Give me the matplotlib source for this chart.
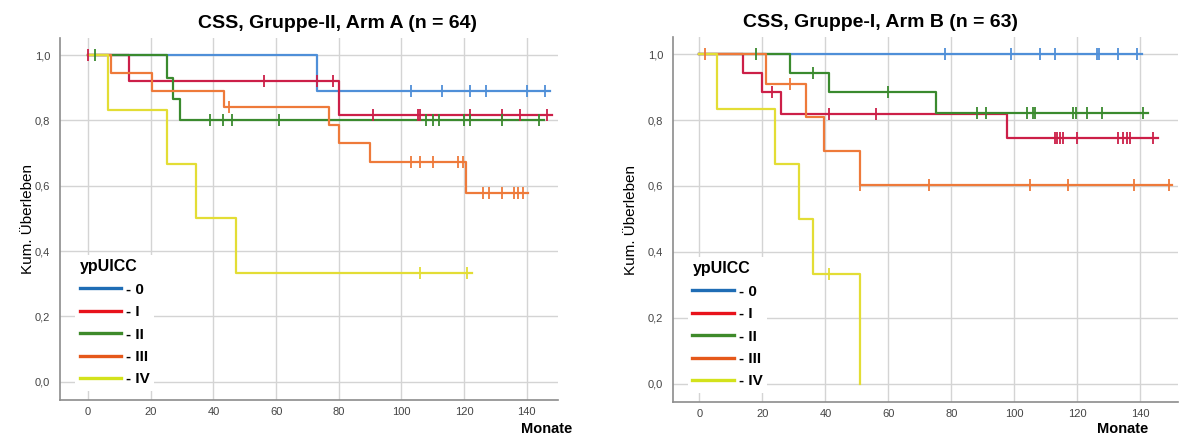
import matplotlib

matplotlib.use("Agg")
import matplotlib.pyplot as plt
import numpy as np
from matplotlib.ticker import FuncFormatter

plt.rcParams["font.family"] = ["Liberation Sans", "DejaVu Sans"]

GROUPS = ["0", "I", "II", "III", "IV"]
CURVE_COLORS = ["#4f8fd8", "#cc1f48", "#3a8a2e", "#ee7a3a", "#e3dd35"]
LEGEND_COLORS = ["#1f6db5", "#e8121b", "#3e8a2a", "#e5581a", "#d3e21b"]

# Arm A (Gruppe-II): event times, survival after each event, censored times, last follow-up
A_EVENTS = [[73], [13, 80], [25.3, 27.2, 29.2], [7.4, 20.3, 43.4, 77, 80.2, 90, 120.7], [6.3, 25.3, 34.3, 47.2]]
A_SURV = [[0.889], [0.92, 0.818], [0.931, 0.865, 0.80],
          [0.946, 0.891, 0.84, 0.786, 0.73, 0.672, 0.577], [0.833, 0.667, 0.5, 0.333]]
A_CENSOR = [
    [103, 113, 122, 127, 140, 146],
    [0, 56, 73, 78, 91, 105.2, 106, 122, 132, 138, 146.5],
    [2.3, 39, 43, 46, 61, 108, 110, 112, 120, 122, 132, 144],
    [45, 103, 106, 110, 118, 119.7, 126, 128, 132, 136, 137.2, 138.7],
    [106, 121],
]
A_END = [147.5, 148, 145.5, 140.5, 122.5]

# Arm B (Gruppe-I)
B_EVENTS = [[], [13.8, 20, 25.8, 97.8], [28.8, 41, 75], [21.2, 33.9, 39.7, 51], [5.7, 24, 31.7, 36, 51]]
B_SURV = [[], [0.942, 0.884, 0.818, 0.746], [0.944, 0.886, 0.822],
          [0.909, 0.808, 0.706, 0.603], [0.833, 0.667, 0.5, 0.333, 0.0]]
B_CENSOR = [
    [78, 99, 108, 113, 126.2, 127, 133, 139],
    [23, 41, 56, 113, 113.6, 114.5, 115.5, 120, 133, 134.4, 135.7, 136.7, 144],
    [18, 36, 60, 88, 91, 104, 105.8, 106.6, 118.7, 119.5, 123, 128, 141],
    [1.8, 28.8, 51, 73, 105, 117, 138, 149],
    [41],
]
B_END = [140.5, 145.5, 142.5, 150, 51]

X_TICKS = [0, 20, 40, 60, 80, 100, 120, 140]
Y_TICKS = [0.0, 0.2, 0.4, 0.6, 0.8, 1.0]


def draw_km(axis, events, surv, censor, end, color):
    x = np.array([0.0] + list(events) + [end])
    y = np.array([1.0] + list(surv) + [surv[-1] if surv else 1.0])
    axis.plot(x, y, drawstyle="steps-post", color=color, lw=1.6, zorder=3)
    c = np.asarray(censor, dtype=float)
    idx = np.searchsorted(np.asarray(events, dtype=float), c, side="right")
    cy = np.array([1.0] + list(surv))[idx]
    axis.plot(c, cy, ls="none", marker="|", ms=9, mew=1.3, color=color, zorder=4)


def panel(axis, events, surv, censor, end, title, title_x, xlim, monate_xy, label_x):
    for k in range(len(GROUPS)):
        draw_km(axis, events[k], surv[k], censor[k], end[k], CURVE_COLORS[k])
    axis.set_xlim(*xlim)
    axis.set_ylim(-0.056, 1.052)
    axis.set_xticks(X_TICKS)
    axis.set_yticks(Y_TICKS)
    axis.yaxis.set_major_formatter(FuncFormatter(lambda v, _: f"{v:.1f}".replace(".", ",")))
    axis.grid(True, color="#d4d4d4", lw=1.0, zorder=0)
    axis.set_axisbelow(True)
    for side in ("top", "right"):
        axis.spines[side].set_visible(False)
    for side in ("left", "bottom"):
        axis.spines[side].set_color("#8c8c8c")
        axis.spines[side].set_linewidth(1.2)
    axis.tick_params(length=0, labelsize=8, colors="#444444")
    axis.tick_params(axis="y", pad=7)
    axis.tick_params(axis="x", pad=5)
    axis.set_title(title, fontsize=14, fontweight="bold", pad=7, x=title_x)
    axis.set_ylabel("Kum. Überleben", fontsize=11)
    axis.yaxis.set_label_coords(label_x, 0.5)
    axis.text(*monate_xy, "Monate", transform=axis.transAxes, ha="center", va="center",
              fontsize=10.5, fontweight="bold")

    handles = [plt.Line2D([], [], color=c, lw=2.4) for c in LEGEND_COLORS]
    leg = axis.legend(handles, [f"- {g}" for g in GROUPS], title="ypUICC",
                      loc="lower left", bbox_to_anchor=(0.03, 0.025), borderaxespad=0,
                      frameon=True, framealpha=1.0, edgecolor="none", fancybox=False,
                      prop={"size": 11, "weight": "bold"},
                      title_fontproperties={"size": 11.5, "weight": "bold"},
                      handlelength=2.7, handletextpad=0.35, labelspacing=0.55,
                      borderpad=0.3, alignment="left")
    leg.set_zorder(5)


fig = plt.figure(figsize=(11.81, 4.34), dpi=100)
ax_a = fig.add_axes([0.0508, 0.0783, 0.4217, 0.834])
ax_b = fig.add_axes([0.5696, 0.0737, 0.4279, 0.841])

panel(ax_a, A_EVENTS, A_SURV, A_CENSOR, A_END, "CSS, Gruppe-II, Arm A (n = 64)", 0.558,
      (-9, 150), (0.978, -0.08), -0.05)
panel(ax_b, B_EVENTS, B_SURV, B_CENSOR, B_END, "CSS, Gruppe-I, Arm B (n = 63)", 0.412,
      (-8.5, 152), (0.89, -0.074), -0.068)

fig.savefig("out.png", dpi=100)
